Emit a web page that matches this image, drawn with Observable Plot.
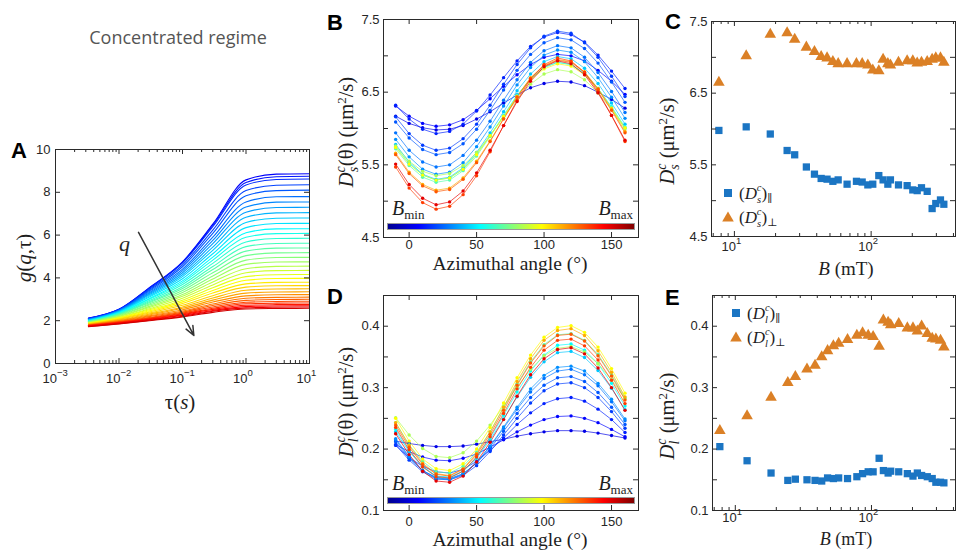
<!DOCTYPE html>
<html><head><meta charset="utf-8">
<script src="https://cdn.jsdelivr.net/npm/d3@7"></script>
<script src="https://cdn.jsdelivr.net/npm/@observablehq/plot@0.6"></script>
<style>
body{margin:0;background:#fff;}
#root{position:relative;width:956px;height:550px;overflow:hidden;background:#fff;}
.panel{position:absolute;}
.cbar{position:absolute;height:7px;box-sizing:border-box;border:1px solid #9a9a9a;
 background:linear-gradient(to right,#00008f 0%,#0000ff 12.5%,#00ffff 37.5%,#ffff00 62.5%,#ff0000 87.5%,#800000 100%);}
</style></head>
<body><div id="root"></div>
<script>
// ---------------- DATA ----------------
// Panel A: g(q,tau) curves (one value per curve at each tau node), low q (top) -> high q (bottom)
const tauNodes = [0.0033, 0.01, 0.03, 0.1, 0.3, 1, 3, 10];
const gAt0p0033 = [2.12,2.11,2.10,2.09,2.07,2.06,2.05,2.04,2.03,2.02,2.01,1.99,1.98,1.97,1.96,1.95,1.94,1.93,1.91,1.90,1.89,1.88,1.87,1.86,1.85,1.83,1.82,1.81,1.80,1.79,1.78,1.77,1.76,1.75,1.73,1.72];
const gAt0p01 = [2.53,2.53,2.52,2.51,2.49,2.48,2.47,2.45,2.43,2.42,2.40,2.37,2.35,2.33,2.31,2.29,2.27,2.24,2.21,2.19,2.16,2.14,2.12,2.09,2.07,2.04,2.01,1.99,1.97,1.95,1.94,1.92,1.90,1.89,1.86,1.85];
const gAt0p03 = [3.54,3.52,3.51,3.46,3.41,3.36,3.31,3.26,3.21,3.16,3.11,3.04,3.00,2.94,2.89,2.84,2.78,2.73,2.67,2.62,2.56,2.51,2.46,2.41,2.36,2.31,2.27,2.23,2.19,2.15,2.12,2.10,2.07,2.05,2.02,2.00];
const gAt0p1 = [4.75,4.73,4.70,4.61,4.52,4.41,4.33,4.24,4.15,4.06,3.96,3.86,3.78,3.69,3.59,3.50,3.41,3.32,3.22,3.14,3.05,2.96,2.88,2.80,2.72,2.64,2.58,2.51,2.45,2.40,2.36,2.32,2.28,2.25,2.21,2.18];
const gAt0p3 = [6.51,6.45,6.39,6.23,6.08,5.90,5.75,5.60,5.44,5.29,5.13,4.97,4.83,4.68,4.53,4.39,4.24,4.09,3.95,3.81,3.67,3.54,3.41,3.29,3.17,3.06,2.96,2.87,2.78,2.71,2.64,2.58,2.53,2.48,2.44,2.39];
const gAt1 = [8.58,8.46,8.34,8.08,7.84,7.55,7.31,7.07,6.83,6.59,6.35,6.11,5.90,5.68,5.46,5.25,5.04,4.83,4.63,4.43,4.24,4.06,3.89,3.72,3.57,3.42,3.29,3.16,3.05,2.95,2.86,2.79,2.72,2.66,2.60,2.55];
const gAt3 = [8.85,8.73,8.60,8.33,8.08,7.79,7.54,7.29,7.04,6.79,6.54,6.29,6.07,5.84,5.61,5.39,5.17,4.95,4.74,4.54,4.34,4.15,3.97,3.79,3.63,3.48,3.34,3.21,3.09,2.99,2.90,2.82,2.75,2.69,2.63,2.57];
const gAt10 = [8.87,8.75,8.62,8.35,8.10,7.80,7.55,7.30,7.05,6.80,6.55,6.30,6.08,5.85,5.62,5.40,5.18,4.96,4.75,4.55,4.35,4.16,3.98,3.80,3.64,3.49,3.35,3.22,3.10,3.00,2.91,2.83,2.76,2.70,2.64,2.58];
const gTicks = [0, 2, 4, 6, 8, 10];
const tauDecades = [0.001, 0.01, 0.1, 1, 10];
const qArrowTau = [0.0203, 0.151];
const qArrowG = [6.13, 1.31];
const qLabelAt = {tau: 0.0122, g: 5.6};

// Panels C & E: magnetic field and fitted diffusion coefficients
const fieldB = [7.7,12.2,18.3,24.3,27.6,33.6,38.5,43.1,47.6,52.5,57.4,66.7,78.1,86,94.6,102.8,113.8,122.3,132.5,138.4,158.5,183.4,201.7,217.2,233.5,257,279.3,297,321.4,340.2];
const dsPar = [5.98,6.03,5.93,5.70,5.64,5.47,5.37,5.31,5.30,5.27,5.29,5.23,5.27,5.26,5.22,5.23,5.35,5.29,5.23,5.29,5.22,5.21,5.15,5.14,5.18,5.13,4.89,4.96,5.01,4.95];
const dsPerp = [6.65,7.02,7.32,7.34,7.25,7.14,7.08,7.01,6.99,6.94,6.91,6.91,6.91,6.91,6.89,6.82,6.81,6.97,6.91,6.89,6.93,6.95,6.95,6.92,6.93,6.94,6.97,6.99,6.99,6.93];
const dlPar = [0.204,0.181,0.161,0.149,0.151,0.150,0.149,0.148,0.153,0.152,0.153,0.152,0.155,0.160,0.163,0.163,0.185,0.165,0.161,0.164,0.163,0.160,0.156,0.161,0.157,0.155,0.152,0.146,0.146,0.145];
const dlPerp = [0.230,0.254,0.284,0.308,0.318,0.330,0.336,0.350,0.360,0.368,0.372,0.378,0.385,0.389,0.385,0.383,0.367,0.410,0.406,0.402,0.404,0.397,0.397,0.392,0.400,0.388,0.380,0.379,0.377,0.366];

// Panels B & D: D(theta) per field (index into fieldB)
const thetaDeg = [-10,0,10,20,30,40,50,60,70,80,90,100,110,120,130,140,150,160];
const lineFieldIdx = [0,1,2,3,4,5,6,8,10,13,16,19,22,25,26,29];
const dsTheta = [
 [6.17,6.07,6.01,5.98,5.99,6.04,6.13,6.23,6.35,6.46,6.56,6.62,6.65,6.64,6.59,6.50,6.40,6.28],
 [6.31,6.17,6.07,6.03,6.05,6.12,6.25,6.41,6.58,6.74,6.88,6.98,7.02,7.00,6.93,6.80,6.65,6.47],
 [6.32,6.13,5.99,5.93,5.96,6.06,6.24,6.46,6.70,6.93,7.13,7.26,7.32,7.29,7.19,7.01,6.79,6.55],
 [6.16,5.93,5.77,5.70,5.73,5.86,6.06,6.32,6.61,6.88,7.11,7.27,7.34,7.31,7.18,6.98,6.72,6.44],
 [6.09,5.87,5.71,5.64,5.67,5.79,5.99,6.25,6.53,6.80,7.02,7.18,7.25,7.22,7.10,6.90,6.64,6.36],
 [5.94,5.70,5.54,5.47,5.50,5.63,5.84,6.10,6.39,6.67,6.91,7.07,7.14,7.11,6.98,6.77,6.51,6.22],
 [5.85,5.61,5.44,5.37,5.40,5.53,5.75,6.02,6.31,6.60,6.84,7.01,7.08,7.05,6.92,6.70,6.43,6.14],
 [5.78,5.54,5.37,5.30,5.33,5.46,5.67,5.94,6.23,6.52,6.75,6.92,6.99,6.96,6.83,6.62,6.35,6.06],
 [5.75,5.52,5.36,5.29,5.32,5.44,5.65,5.90,6.18,6.46,6.68,6.84,6.91,6.88,6.76,6.55,6.30,6.02],
 [5.72,5.49,5.33,5.26,5.29,5.42,5.62,5.89,6.17,6.45,6.68,6.84,6.91,6.88,6.75,6.55,6.29,6.00],
 [5.76,5.55,5.41,5.35,5.38,5.49,5.67,5.90,6.16,6.40,6.61,6.75,6.81,6.78,6.67,6.49,6.26,6.00],
 [5.74,5.51,5.36,5.29,5.32,5.44,5.64,5.90,6.17,6.44,6.67,6.82,6.89,6.86,6.74,6.54,6.28,6.01],
 [5.66,5.40,5.23,5.15,5.18,5.32,5.55,5.83,6.14,6.44,6.70,6.87,6.95,6.92,6.78,6.55,6.27,5.96],
 [5.64,5.38,5.21,5.13,5.16,5.30,5.53,5.82,6.13,6.43,6.69,6.86,6.94,6.91,6.77,6.54,6.25,5.94],
 [5.47,5.18,4.98,4.89,4.93,5.09,5.35,5.68,6.04,6.39,6.68,6.88,6.97,6.93,6.77,6.51,6.18,5.82],
 [5.51,5.23,5.04,4.95,4.99,5.14,5.39,5.70,6.04,6.37,6.65,6.85,6.93,6.89,6.74,6.49,6.18,5.84]
];
const dlTheta = [
 [0.213,0.209,0.206,0.204,0.204,0.205,0.208,0.212,0.216,0.221,0.225,0.228,0.230,0.230,0.229,0.226,0.222,0.218],
 [0.207,0.196,0.187,0.182,0.181,0.185,0.192,0.203,0.215,0.228,0.239,0.248,0.253,0.254,0.250,0.243,0.232,0.220],
 [0.206,0.186,0.172,0.163,0.161,0.167,0.180,0.198,0.218,0.240,0.259,0.274,0.282,0.284,0.278,0.265,0.248,0.227],
 [0.207,0.182,0.163,0.151,0.150,0.157,0.173,0.196,0.223,0.250,0.275,0.295,0.306,0.308,0.300,0.284,0.261,0.234],
 [0.212,0.185,0.165,0.154,0.152,0.160,0.177,0.201,0.229,0.258,0.284,0.304,0.316,0.318,0.310,0.292,0.268,0.240],
 [0.215,0.187,0.165,0.153,0.151,0.159,0.178,0.204,0.234,0.265,0.293,0.315,0.327,0.330,0.321,0.303,0.277,0.246],
 [0.217,0.188,0.165,0.152,0.150,0.159,0.178,0.205,0.236,0.268,0.298,0.320,0.333,0.335,0.327,0.307,0.281,0.249],
 [0.228,0.196,0.171,0.156,0.154,0.164,0.185,0.215,0.249,0.285,0.317,0.342,0.357,0.359,0.349,0.328,0.299,0.264],
 [0.232,0.198,0.172,0.156,0.154,0.164,0.187,0.218,0.255,0.293,0.327,0.353,0.369,0.371,0.361,0.339,0.307,0.270],
 [0.243,0.207,0.180,0.163,0.161,0.172,0.195,0.228,0.267,0.306,0.342,0.370,0.386,0.388,0.377,0.354,0.321,0.283],
 [0.251,0.223,0.201,0.188,0.186,0.194,0.213,0.239,0.270,0.301,0.330,0.352,0.364,0.367,0.358,0.339,0.313,0.282],
 [0.250,0.213,0.184,0.168,0.165,0.176,0.200,0.235,0.275,0.316,0.353,0.382,0.398,0.401,0.390,0.366,0.331,0.291],
 [0.243,0.206,0.177,0.160,0.157,0.168,0.193,0.228,0.268,0.310,0.347,0.377,0.393,0.396,0.385,0.360,0.325,0.285],
 [0.239,0.203,0.175,0.159,0.156,0.167,0.191,0.224,0.263,0.304,0.340,0.368,0.385,0.387,0.376,0.352,0.319,0.280],
 [0.235,0.199,0.171,0.155,0.153,0.164,0.187,0.220,0.258,0.298,0.333,0.361,0.377,0.379,0.368,0.345,0.312,0.274],
 [0.225,0.191,0.164,0.148,0.146,0.156,0.179,0.211,0.248,0.286,0.321,0.347,0.362,0.365,0.355,0.332,0.300,0.263]
];
const thetaTickLabels = [0, 50, 100, 150];
const dsTickLabels = [4.5, 5.5, 6.5, 7.5];
const dsTickMarks = [4.5, 5, 5.5, 6, 6.5, 7, 7.5];
const dlTickLabels = [0.1, 0.2, 0.3, 0.4];
const dlTickMarks = [0.1, 0.15, 0.2, 0.25, 0.3, 0.35, 0.4, 0.45];
const bDecades = [10, 100];
const bMinor = [7, 8, 9, 20, 30, 40, 50, 60, 70, 80, 90, 200, 300, 400];

// ---------------- STYLE / HELPERS ----------------
const SERIF = "'Liberation Serif','DejaVu Serif',serif";
const SANS = "'Liberation Sans',Arial,sans-serif";
const AXC = "#2a2a2a";
const SQC = "#1b75c3";
const TRC = "#db8026";
const root = document.getElementById("root");
const jet = t => { const c = v => Math.round(255 * Math.max(0, Math.min(1, v)));
  return `rgb(${c(1.5 - Math.abs(4*t - 3))},${c(1.5 - Math.abs(4*t - 2))},${c(1.5 - Math.abs(4*t - 1))})`; };
const style = {fontFamily: SANS, fontSize: "13px", color: "#262626", background: "transparent", overflow: "visible"};
function place(svg, left, top) { const d = document.createElement("div"); d.className = "panel";
  d.style.left = left + "px"; d.style.top = top + "px"; d.appendChild(svg); root.appendChild(d); }
function boxTicks(xs, ys, iw, ih, len) {
  return [
    Plot.tickX(xs, {x: d => d, insetTop: ih - len, stroke: AXC}),
    Plot.tickX(xs, {x: d => d, insetBottom: ih - len, stroke: AXC}),
    Plot.tickY(ys, {y: d => d, insetRight: iw - len, stroke: AXC}),
    Plot.tickY(ys, {y: d => d, insetLeft: iw - len, stroke: AXC})
  ];
}
const expLabel = d => { const e = Math.round(Math.log10(d)); return e < 0 ? "\u2212" + (-e) : String(e); };
function logLabels(decs, dyBase) {
  return [
    Plot.text(decs, {x: d => d, text: () => "10", frameAnchor: "bottom", dy: dyBase, textAnchor: "end", dx: 1.5, fontSize: 13}),
    Plot.text(decs, {x: d => d, text: expLabel, frameAnchor: "bottom", dy: dyBase - 7, textAnchor: "start", dx: 1.5, fontSize: 9.5})
  ];
}

// ---------------- PANEL A ----------------
{
  const W = 320, H = 290, m = {l: 55, r: 11, t: 19, b: 57};
  const iw = W - m.l - m.r, ih = H - m.t - m.b;
  const nodes = [gAt0p0033, gAt0p01, gAt0p03, gAt0p1, gAt0p3, gAt1, gAt3, gAt10];
  const n = gAt10.length;
  const rows = [];
  for (let i = 0; i < n; i++) for (let j = 0; j < tauNodes.length; j++)
    rows.push({tau: tauNodes[j], g: nodes[j][i], curve: i, color: jet(0.12 + 0.8 * i / (n - 1))});
  const minor = [];
  for (const d of [0.001, 0.01, 0.1, 1]) for (let k = 2; k <= 9; k++) minor.push(d * k);
  const arrow = [{t1: qArrowTau[0], g1: qArrowG[0], t2: qArrowTau[1], g2: qArrowG[1]}];
  place(Plot.plot({
    width: W, height: H, marginLeft: m.l, marginRight: m.r, marginTop: m.t, marginBottom: m.b,
    x: {type: "log", domain: [1e-3, 10], axis: null}, y: {domain: [0, 10], axis: null},
    color: {type: "identity"}, style,
    marks: [
      Plot.line(rows, {x: "tau", y: "g", z: "curve", stroke: "color", strokeWidth: 1.1, curve: "monotone-x"}),
      ...boxTicks(tauDecades, gTicks, iw, ih, 5),
      ...boxTicks(minor, [], iw, ih, 3),
      Plot.frame({stroke: AXC}),
      Plot.axisY({ticks: gTicks, tickSize: 0, tickPadding: 5, label: null}),
      ...logLabels(tauDecades, 19.5),
      Plot.arrow(arrow, {x1: "t1", y1: "g1", x2: "t2", y2: "g2", stroke: "#333", strokeWidth: 1.5, headLength: 10, headAngle: 45}),
      Plot.text([qLabelAt], {x: "tau", y: "g", text: () => "q", fontFamily: SERIF, fontStyle: "italic", fontSize: 22})
    ]
  }), 0, 130);
}

// ---------------- PANELS B & D ----------------
function thetaPanel(lines, yDom, yMarks, yLabels, fmt, top, H, mt, mb, xPad) {
  const W = 320, ml = 53, mr = 12;
  const iw = W - ml - mr, ih = H - mt - mb;
  const rows = [];
  lines.forEach((vals, k) => vals.forEach((v, j) =>
    rows.push({theta: thetaDeg[j], v, curve: k, color: jet(0.1 + 0.8 * lineFieldIdx[k] / (fieldB.length - 1))})));
  place(Plot.plot({
    width: W, height: H, marginLeft: ml, marginRight: mr, marginTop: mt, marginBottom: mb,
    x: {domain: [-19, 170], axis: null}, y: {domain: yDom, axis: null},
    color: {type: "identity"}, style,
    marks: [
      Plot.line(rows, {x: "theta", y: "v", z: "curve", stroke: "color", strokeWidth: 0.9, strokeOpacity: 0.75}),
      Plot.dot(rows, {x: "theta", y: "v", fill: "color", r: 1.7}),
      ...boxTicks(thetaTickLabels, yMarks, iw, ih, 5),
      Plot.frame({stroke: AXC}),
      Plot.axisX({ticks: thetaTickLabels, tickSize: 0, tickPadding: xPad, label: null}),
      Plot.axisY({ticks: yLabels, tickSize: 0, tickPadding: 4, label: null, tickFormat: fmt})
    ]
  }), 330, top);
}
thetaPanel(dsTheta, [4.5, 7.5], dsTickMarks, dsTickLabels, d => d.toFixed(1), 0, 280, 19, 43, 2);
thetaPanel(dlTheta, [0.1, 0.45], dlTickMarks, dlTickLabels, d => d.toFixed(1), 280, 270, 15, 40, 6);

// ---------------- PANELS C & E ----------------
function fieldPanel(par, perp, yDom, yMarks, yLabels, top, H, mt, mb, ml, logDy) {
  const W = 296, mr = 1;
  const iw = W - ml - mr, ih = H - mt - mb;
  const sq = fieldB.map((b, i) => ({b, v: par[i]}));
  const tr = fieldB.map((b, i) => ({b, v: perp[i]}));
  place(Plot.plot({
    width: W, height: H, marginLeft: ml, marginRight: mr, marginTop: mt, marginBottom: mb,
    x: {type: "log", domain: [6.8, 414], axis: null}, y: {domain: yDom, axis: null}, style,
    marks: [
      Plot.dot(sq, {x: "b", y: "v", symbol: "square", fill: SQC, r: 4.1}),
      Plot.dot(tr, {x: "b", y: "v", symbol: "triangle", fill: TRC, r: 4.3}),
      ...boxTicks(bDecades, yMarks, iw, ih, 5),
      ...boxTicks(bMinor, [], iw, ih, 3),
      Plot.frame({stroke: AXC}),
      Plot.axisY({ticks: yLabels, tickSize: 0, tickPadding: 4, label: null, tickFormat: d => d.toFixed(1)}),
      ...logLabels(bDecades, logDy)
    ]
  }), 660, top);
}
fieldPanel(dsPar, dsPerp, [4.5, 7.5], dsTickMarks, dsTickLabels, 0, 280, 21, 44, 51, 14);
fieldPanel(dlPar, dlPerp, [0.1, 0.45], dlTickMarks, dlTickLabels, 280, 270, 15, 40, 52, 11.5);

// ---------------- COLORBARS ----------------
for (const top of [223, 497]) { const c = document.createElement("div"); c.className = "cbar";
  c.style.left = "387px"; c.style.top = top + "px"; c.style.width = "248px"; root.appendChild(c); }

// ---------------- OVERLAY TEXT ----------------
const ov = d3.select(root).append("svg").attr("width", 956).attr("height", 550)
  .style("position", "absolute").style("left", "0px").style("top", "0px");
function rich(x, y, parts, {size = 19, anchor = "middle", rot = 0, family = SERIF, fill = "#1e1e1e", weight = null} = {}) {
  const t = ov.append("text").attr("transform", `translate(${x},${y})` + (rot ? ` rotate(${rot})` : ""))
    .attr("text-anchor", anchor).attr("font-family", family).attr("font-size", size).attr("fill", fill);
  if (weight) t.attr("font-weight", weight);
  for (const p of parts) { const s = t.append("tspan").text(p.t);
    if (p.i) s.attr("font-style", "italic"); if (p.fs) s.attr("font-size", p.fs);
    if (p.dx) s.attr("dx", p.dx); if (p.dy) s.attr("dy", p.dy); }
  return t;
}
rich(178, 44, [{t: "Concentrated regime"}], {family: "'Open Sans',sans-serif", size: 18, fill: "#555"});
const letter = (x, y, s) => rich(x, y, [{t: s}], {anchor: "start", family: SANS, size: 22, weight: "bold", fill: "#000"});
letter(11, 158, "A"); letter(327, 30, "B"); letter(665, 29, "C"); letter(327, 304, "D"); letter(665, 305, "E");

rich(31, 258, [{t: "g", i: 1}, {t: "("}, {t: "q", i: 1}, {t: ",τ)"}], {rot: -90, size: 21});
rich(180, 409, [{t: "τ("}, {t: "s", i: 1}, {t: ")"}], {size: 21});
rich(510, 270, [{t: "Azimuthal angle (°)"}], {size: 19.5});
rich(510, 546, [{t: "Azimuthal angle (°)"}], {size: 19.5});
rich(846, 275, [{t: "B", i: 1}, {t: " (mT)"}], {size: 19});
rich(846, 545, [{t: "B", i: 1}, {t: " (mT)"}], {size: 18});

const dLabel = (sub, theta) => [{t: "D", i: 1}, {t: sub, i: 1, fs: 14, dy: 5}, {t: "c", i: 1, fs: 14, dx: sub === "s" ? -5.5 : -4, dy: -13},
  {t: (theta ? "(θ)" : "") + " (μm", dy: 8}, {t: "2", fs: 13, dy: -7}, {t: "/s)", dy: 7}];
rich(353, 132, dLabel("s", true), {rot: -90, size: 20.5});
rich(353, 402, dLabel("l", true), {rot: -90, size: 20.5});
rich(674, 141, dLabel("s", false), {rot: -90, size: 20.5});
rich(674, 416, dLabel("l", false), {rot: -90, size: 20.5});

for (const y of [215, 490]) {
  rich(392, y, [{t: "B", i: 1}, {t: "min", fs: 13, dy: 4}], {anchor: "start", size: 20});
  rich(633, y, [{t: "B", i: 1}, {t: "max", fs: 13, dy: 4}], {anchor: "end", size: 20});
}

function legend(x, y, sub) {
  ov.append("rect").attr("x", x - 4).attr("y", y - 4).attr("width", 8).attr("height", 8).attr("fill", SQC);
  ov.append("path").attr("d", `M${x},${y + 24 - 5.5}L${x + 5.8},${y + 24 + 4.5}L${x - 5.8},${y + 24 + 4.5}Z`).attr("fill", TRC);
  const parts = sym => [{t: "("}, {t: "D", i: 1}, {t: sub, i: 1, fs: 10.5, dy: 4}, {t: "c", i: 1, fs: 10.5, dx: sub === "s" ? -4.2 : -3, dy: -12},
    {t: ")", dy: 8}, {t: sym, fs: 11, dy: 3}];
  rich(x + 11, y + 6, parts("∥"), {anchor: "start", size: 17});
  rich(x + 11, y + 30, parts("⊥"), {anchor: "start", size: 17});
}
legend(728, 193, "s");
legend(736, 313, "l");
</script>
</body></html>
